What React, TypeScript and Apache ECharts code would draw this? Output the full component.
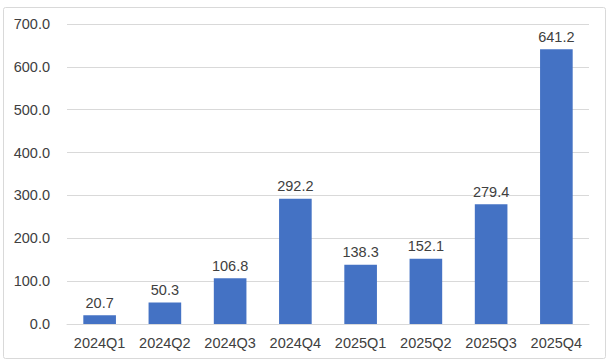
import React, { useEffect, useRef } from "react";
import * as echarts from "echarts";

const categories = ["2024Q1", "2024Q2", "2024Q3", "2024Q4", "2025Q1", "2025Q2", "2025Q3", "2025Q4"];
const values = [20.7, 50.3, 106.8, 292.2, 138.3, 152.1, 279.4, 641.2];
const yMin = 0;
const yMax = 700;
const yInterval = 100;

export default function App() {
  const ref = useRef<HTMLDivElement>(null);
  useEffect(() => {
    if (!ref.current) return;
    const chart = echarts.init(ref.current, undefined, { renderer: "svg" });
    const font = "'Liberation Sans', Arial, sans-serif";
    chart.setOption({
      animation: false,
      backgroundColor: "#ffffff",
      textStyle: { fontFamily: font },
      graphic: [
        {
          type: "rect",
          shape: { x: 3.5, y: 7.5, width: 602, height: 351, r: 2 },
          style: { fill: "none", stroke: "#D9D9D9", lineWidth: 1 },
          silent: true,
          z: -1,
        },
      ],
      grid: { left: 67, right: 20, top: 24, bottom: 39 },
      xAxis: {
        type: "category",
        data: categories,
        axisLine: { show: true, lineStyle: { color: "#D9D9D9", width: 1 } },
        axisTick: { show: false },
        axisLabel: { color: "#404040", fontSize: 14.5, fontFamily: font, margin: 11, interval: 0 },
      },
      yAxis: {
        type: "value",
        min: yMin,
        max: yMax,
        interval: yInterval,
        axisLine: { show: false },
        axisTick: { show: false },
        splitLine: { lineStyle: { color: "#D9D9D9", width: 1 } },
        axisLabel: {
          color: "#404040",
          fontSize: 14.5,
          fontFamily: font,
          margin: 17,
          formatter: (v: number) => v.toFixed(1),
        },
      },
      series: [
        {
          type: "bar",
          data: values,
          barWidth: "50%",
          itemStyle: { color: "#4472C4" },
          label: {
            show: true,
            position: "top",
            distance: 5,
            color: "#404040",
            fontSize: 14.5,
            fontFamily: font,
            formatter: (p: any) => Number(p.value).toFixed(1),
          },
        },
      ],
    });
    return () => chart.dispose();
  }, []);
  return (
    <div
      ref={ref}
      style={{ position: "fixed", left: 0, top: 0, width: 609, height: 363 }}
    />
  );
}
